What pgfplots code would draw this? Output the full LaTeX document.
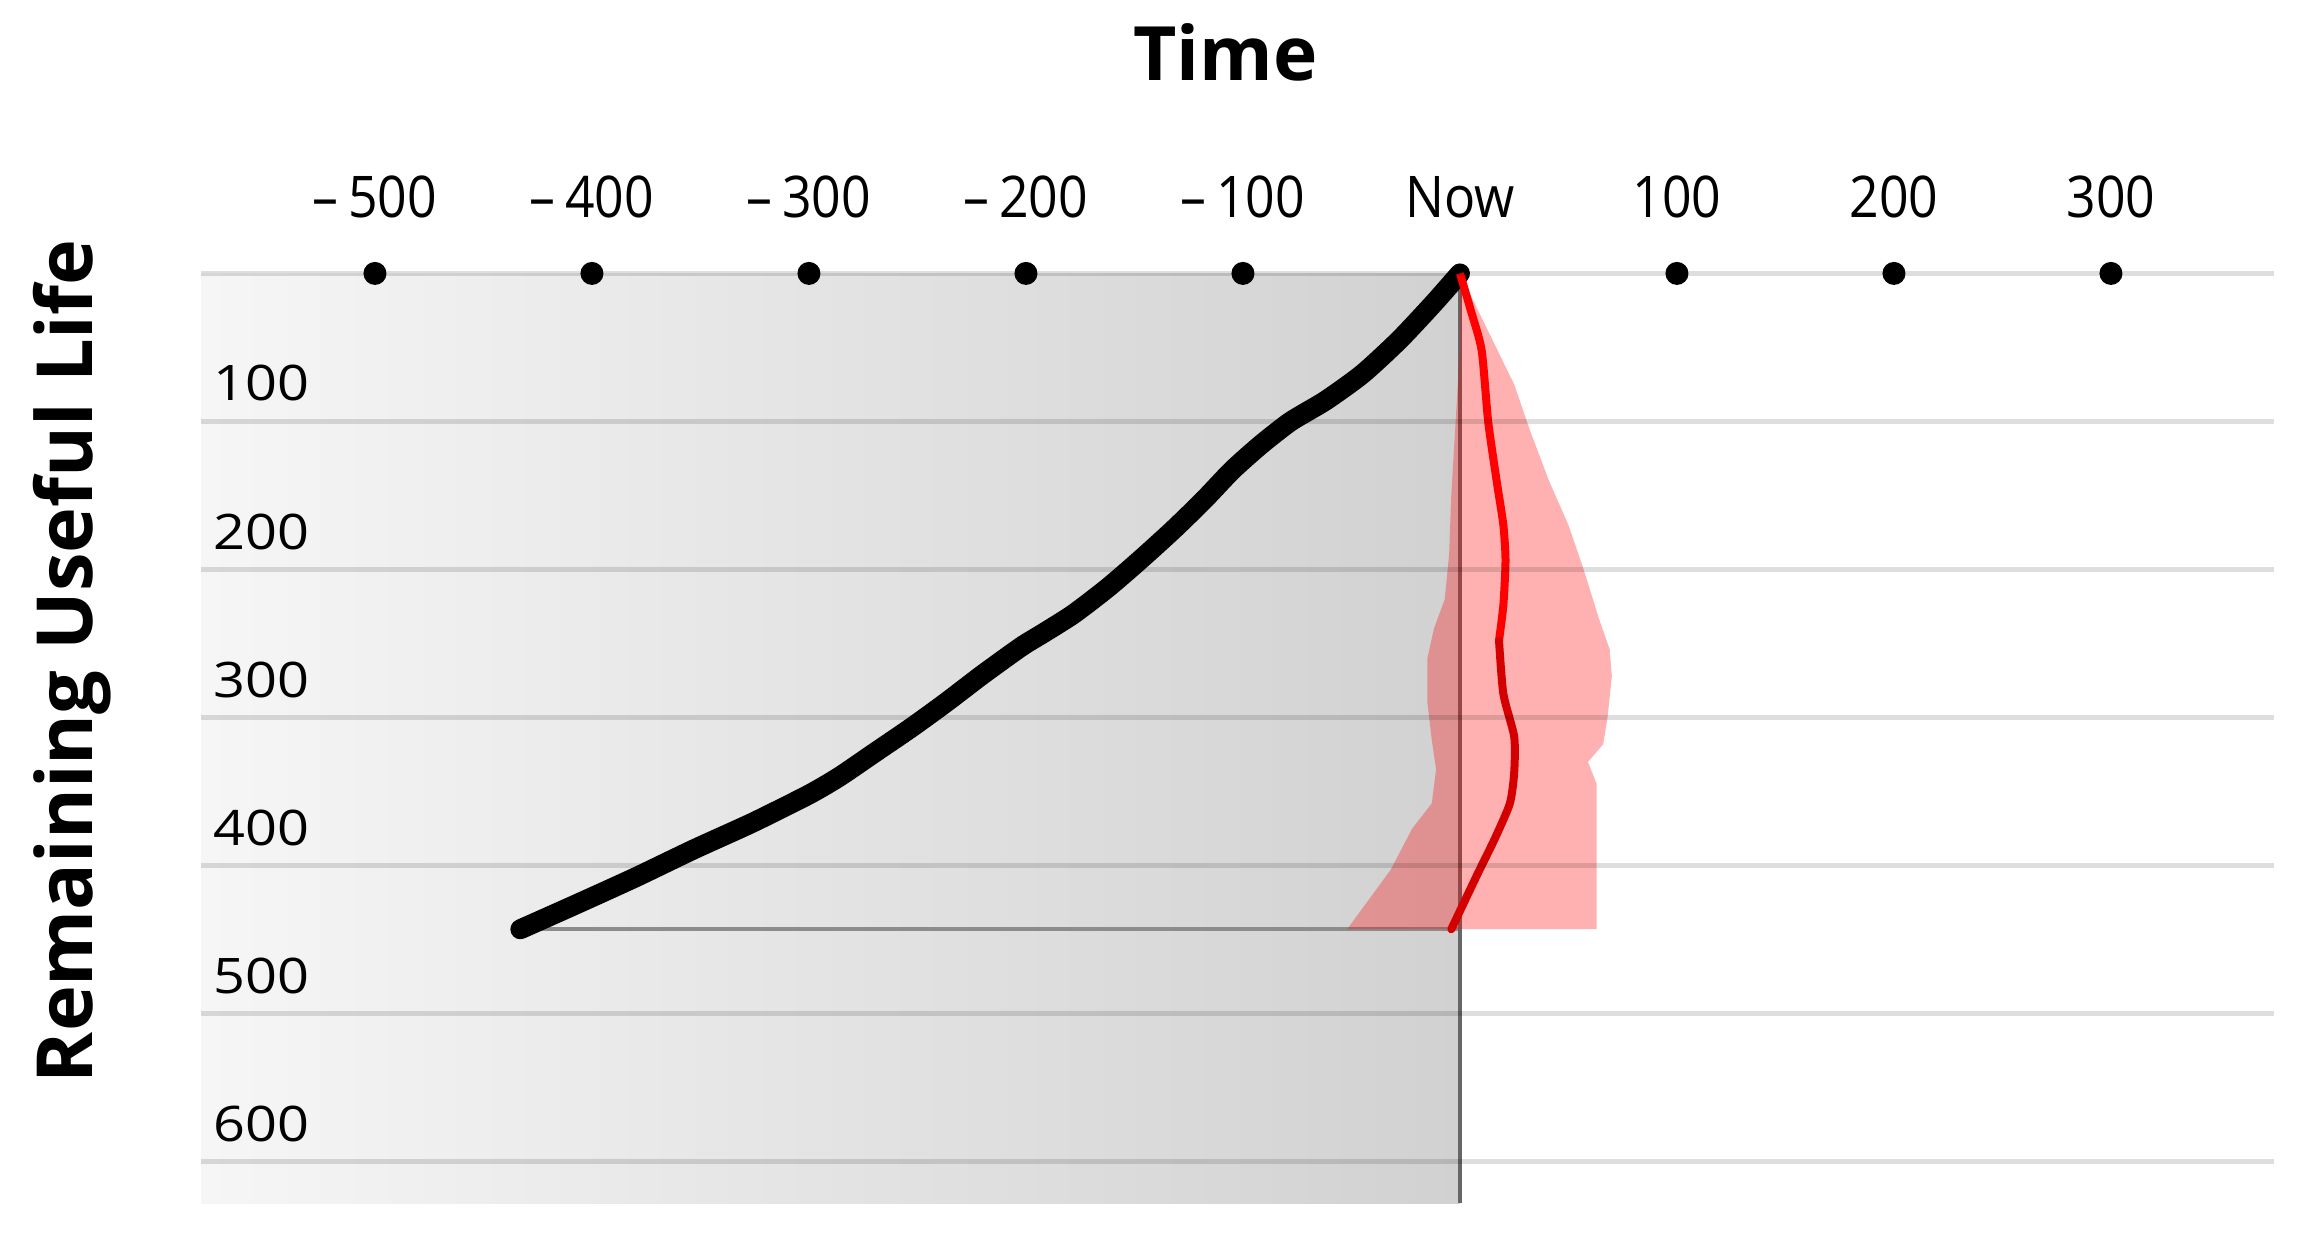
\documentclass[border=0pt]{standalone}
\usepackage{fontspec}
\setmainfont{Open Sans}
\usepackage{pgfplots}
\pgfplotsset{compat=1.18}
\newfontfamily\xfont[FakeStretch=0.9]{Open Sans}
\newfontfamily\yfont[FakeStretch=1.14]{Open Sans}
\definecolor{shadeL}{RGB}{246,246,246}
\definecolor{shadeR}{RGB}{209,209,209}
\definecolor{darkred}{RGB}{212,0,0}

\begin{document}
\begin{tikzpicture}
\begin{axis}[
  scale only axis, width=414.6pt, height=186pt,
  xmin=-580, xmax=375, ymin=0, ymax=628, y dir=reverse,
  axis line style={draw=none}, major tick length=0pt,
  xtick={-500,-400,...,300},
  xticklabels={–\,500,–\,400,–\,300,–\,200,–\,100,Now,100,200,300},
  xticklabel pos=upper,
  xticklabel style={font=\xfont\fontsize{11.5}{12}\selectfont, anchor=base, yshift=11.1pt},
  ytick={0,100,...,600},
  yticklabels={,100,200,300,400,500,600},
  yticklabel style={font=\yfont\fontsize{9.8}{10}\selectfont, anchor=base west, inner sep=0pt, xshift=2.2pt, yshift=4.1pt},
  ymajorgrids, grid style={line width=1pt, black, opacity=0.13},
  axis on top, clip=false,
]
% shaded past region
\addplot[draw=none, left color=shadeL, right color=shadeR] coordinates {(-580,0) (0,0) (0,628) (-580,628)} -- cycle;

% guide lines
\addplot[black!45, line width=0.7pt] coordinates {(-433,443) (0,443)};
\addplot[black!60, line width=0.7pt] coordinates {(0,0) (0,628)};

% observed degradation
\addplot[black, line width=4pt, line cap=round, line join=round, smooth, tension=0.4] coordinates {
  (0,0) (-12,20) (-28,45) (-45,68) (-62,86) (-78,100) (-92,116) (-105,133)
  (-118,153) (-132,173) (-147,193) (-162,212) (-178,230) (-192,243) (-202,252)
  (-220,271) (-237,290) (-253,307) (-270,324) (-286,340) (-300,352)
  (-326,371) (-353,389) (-380,408) (-407,426) (-433,443)
};

% prediction band
\addplot[draw=none, fill=red, fill opacity=0.31] coordinates {
  (0,0) (0,50) (-2,100) (-4,150) (-5,190) (-7,220) (-12,240) (-15,260) (-15,290)
  (-13,315) (-11,335) (-13,358) (-22,375) (-32,403) (-52,443)
  (63,443) (63,373) (63,345) (59,330) (66,318) (68,300) (70,272) (69,254)
  (64,233) (57,200) (50,170) (41,140) (32,105) (25,75) (17,51) (8,24)
} -- cycle;

% predicted mean
\addplot[red, line width=1.6pt, line join=round, smooth, tension=0.4] coordinates {
  (0,0) (5,25) (10,52) (13,100) (17,141) (20,170) (21,194) (20,224) (18,248)
};
\addplot[darkred, line width=1.6pt, line join=round, line cap=round, smooth, tension=0.4] coordinates {
  (18,248) (20,284) (25,313) (25,337) (23,358) (16,382) (8,406) (-4,443)
};

% time tick dots
\addplot[only marks, mark=*, mark size=2.1pt, black] coordinates {
  (-500,0) (-400,0) (-300,0) (-200,0) (-100,0) (100,0) (200,0) (300,0)
};

\node[font=\bfseries\fontsize{15}{16}\selectfont, anchor=base] at (axis cs:-108,-130) {Time};
\node[font=\bfseries\fontsize{15.5}{16}\selectfont, rotate=90, anchor=base] at (axis cs:-630,262) {Remaining Useful Life};

\coordinate (bl) at (axis cs:-672.8,647.9);
\coordinate (tr) at (axis cs:389.9,-184.7);
\end{axis}
\pgfresetboundingbox
\path (bl) rectangle (tr);
\end{tikzpicture}
\end{document}
